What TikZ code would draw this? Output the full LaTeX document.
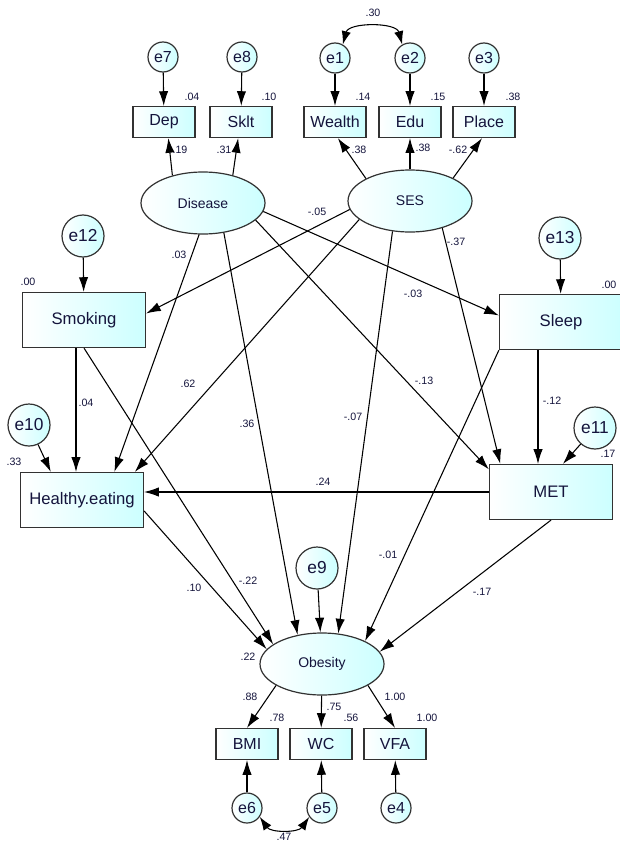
\documentclass[tikz,border=0pt]{standalone}
\usepackage{fontspec}
\setmainfont{Liberation Sans}
\usetikzlibrary{shapes.geometric,arrows.meta}

\definecolor{boxfill}{RGB}{204,255,255}
\definecolor{inkc}{RGB}{20,20,60}
\definecolor{framec}{RGB}{50,50,50}

\tikzset{
  obsbox/.style={draw=framec,line width=0.9pt,left color=white,right color=boxfill,minimum width=46.5pt,minimum height=23.25pt,inner sep=0pt,text=inkc,font=\fontsize{12}{14}\selectfont},
  bigbox/.style={obsbox,minimum width=92.25pt,minimum height=41.25pt,font=\fontsize{12.5}{15}\selectfont},
  latent/.style={ellipse,draw=framec,line width=0.9pt,left color=white,right color=boxfill,minimum width=93pt,minimum height=46.5pt,inner sep=0pt,text=inkc,font=\fontsize{10.5}{13}\selectfont},
  errc/.style={circle,draw=framec,line width=0.9pt,left color=white,right color=boxfill,minimum size=22.5pt,inner sep=0pt,text=inkc,font=\fontsize{12}{14}\selectfont},
  errbig/.style={errc,minimum size=31.5pt,font=\fontsize{13}{15}\selectfont},
  arr/.style={-{Latex[length=11pt,width=7pt]},line width=0.8pt},
  cov/.style={{Latex[length=10pt,width=7pt]}-{Latex[length=10pt,width=7pt]},line width=0.8pt},
  coef/.style={inner sep=0.75pt,text=inkc,font=\fontsize{8}{9}\selectfont},
}

\begin{document}
\begin{tikzpicture}[x=0.75pt,y=0.75pt,yscale=-1,xscale=1]
\useasboundingbox (0,0) rectangle (620,842);

%Shape: indicators
\node[obsbox] (Dep) at (164,122) {Dep};
\node[obsbox] (Sklt) at (241,122) {Sklt};
\node[obsbox] (Wealth) at (335,122) {Wealth};
\node[obsbox] (Edu) at (410,122) {Edu};
\node[obsbox] (Place) at (484,122) {Place};
\node[obsbox] (BMI) at (247,744) {BMI};
\node[obsbox] (WC) at (321,744) {WC};
\node[obsbox] (VFA) at (395,744) {VFA};
%Shape: observed variables
\node[bigbox] (Smoking) at (84,320) {Smoking};
\node[bigbox] (Healthy) at (82,500) {Healthy.eating};
\node[bigbox] (Sleep) at (561,322) {Sleep};
\node[bigbox] (MET) at (551,492) {MET};
%Shape: latent variables
\node[latent] (Disease) at (203,203) {Disease};
\node[latent] (SES) at (410,201) {SES};
\node[latent] (Obesity) at (322,664) {Obesity};
%Shape: errors
\node[errc] (e7) at (163,57) {e7};
\node[errc] (e8) at (242,57) {e8};
\node[errc] (e1) at (335,58) {e1};
\node[errc] (e2) at (410,58) {e2};
\node[errc] (e3) at (484,58) {e3};
\node[errc] (e6) at (247,808) {e6};
\node[errc] (e5) at (322,808) {e5};
\node[errc] (e4) at (396,808) {e4};
\node[errbig] (e12) at (83,236) {e12};
\node[errbig] (e13) at (560,238) {e13};
\node[errbig] (e10) at (29,425) {e10};
\node[errbig] (e11) at (595,428) {e11};
\node[errbig] (e9) at (317,568) {e9};

%Straight Lines: errors
\draw[arr] (e7) -- (Dep);
\draw[arr] (e8) -- (Sklt);
\draw[arr] (e1) -- (Wealth);
\draw[arr] (e2) -- (Edu);
\draw[arr] (e3) -- (Place);
\draw[arr] (e12) -- (Smoking);
\draw[arr] (e13) -- (Sleep);
\draw[arr] (e10) -- (Healthy.138);
\draw[arr] (e11) -- (MET.67);
\draw[arr] (e9) -- (Obesity);
\draw[arr] (e6) -- (BMI);
\draw[arr] (e5) -- (WC);
\draw[arr] (e4) -- (VFA);
%Curves: covariances
\draw[cov] (e1.60) to[out=-75,in=-105] (e2.120);
\draw[cov] (e6.-35) to[out=55,in=125] (e5.-145);

%Straight Lines: measurement
\draw[arr] (Disease.138) -- (Dep.-75);
\draw[arr] (Disease.43) -- (Sklt.-100);
\draw[arr] (SES.153) -- (Wealth.-80);
\draw[arr] (SES) -- (Edu);
\draw[arr] (SES.28) -- (Place.-97);
\draw[arr] (Obesity.205) -- (BMI.north);
\draw[arr] (Obesity) -- (WC);
\draw[arr] (Obesity.-25) -- (VFA.north);

%Straight Lines: structural
\draw[arr] (SES.188) -- (Smoking.6);
\draw[arr] (SES.200) -- (Healthy.28);
\draw[arr] (SES.240) -- (Obesity.62);
\draw[arr] (SES.-40) -- (MET.151);
\draw[arr] (Disease.263) -- (Healthy.41);
\draw[arr] (Disease.-55) -- (Obesity.130);
\draw[arr] (Disease.-8) -- (Sleep.174);
\draw[arr] (Disease.-18) -- (MET.160);
\draw[arr] ([xshift=-6pt]Smoking.south) -- ([xshift=-6pt]Smoking.south |- Healthy.north);
\draw[arr] (Smoking.south) -- (Obesity.158);
\draw[arr] ([xshift=-17.25pt]Sleep.south) -- ([xshift=-17.25pt]Sleep.south |- MET.north);
\draw[arr] (Sleep.south west) -- (Obesity.28);
\draw[arr] (MET.west) -- (MET.west -| Healthy.east);
\draw[arr] (MET.south) -- (Obesity.12);
\draw[arr] (Healthy.-10) -- (Obesity.165);

% Text Node: squared multiple correlations
\node[coef] (rDep) at (192,97) {.04};
\node[coef] (rSklt) at (269,97) {.10};
\node[coef] (rWealth) at (363,97) {.14};
\node[coef] (rEdu) at (438,97) {.15};
\node[coef] (rPlace) at (513,97) {.38};
\node[coef] (rSmoking) at (28,282) {.00};
\node[coef] (rSleep) at (609,285) {.00};
\node[coef] (rHealthy) at (14,462) {.33};
\node[coef] (rMET) at (608,454) {.17};
\node[coef] (rObesity) at (248,657) {.22};
\node[coef] (rBMI) at (277,718) {.78};
\node[coef] (rWC) at (351,718) {.56};
\node[coef] (rVFA) at (427,718) {1.00};
% Text Node: covariances
\node[coef] (c12) at (373,13) {.30};
\node[coef] (c65) at (284,837) {.47};
% Text Node: weights
\node[coef] (wDep) at (180,150) {.19};
\node[coef] (wSklt) at (224,150) {.31};
\node[coef] (wWealth) at (359,150) {.38};
\node[coef] (wEdu) at (423,148) {.38};
\node[coef] (wPlace) at (458,150) {-.62};
\node[coef] (wBMI) at (250,697) {.88};
\node[coef] (wWC) at (334,707) {.75};
\node[coef] (wVFA) at (395,697) {1.00};
\node[coef] (sSesSmk) at (317,212) {-.05};
\node[coef] (sDisHe) at (179,255) {.03};
\node[coef] (sSesMet) at (456,242) {-.37};
\node[coef] (sDisSlp) at (413,294) {-.03};
\node[coef] (sSesHe) at (188,384) {.62};
\node[coef] (sDisMet) at (424,381) {-.13};
\node[coef] (sSmkHe) at (86,403) {.04};
\node[coef] (sSlpMet) at (552,401) {-.12};
\node[coef] (sSesOb) at (353,417) {-.07};
\node[coef] (sDisOb) at (247,424) {.36};
\node[coef] (sMetHe) at (323,482) {.24};
\node[coef] (sSlpOb) at (388,555) {-.01};
\node[coef] (sHeOb) at (194,588) {.10};
\node[coef] (sSmkOb) at (248,581) {-.22};
\node[coef] (sMetOb) at (482,592) {-.17};

\end{tikzpicture}
\end{document}
